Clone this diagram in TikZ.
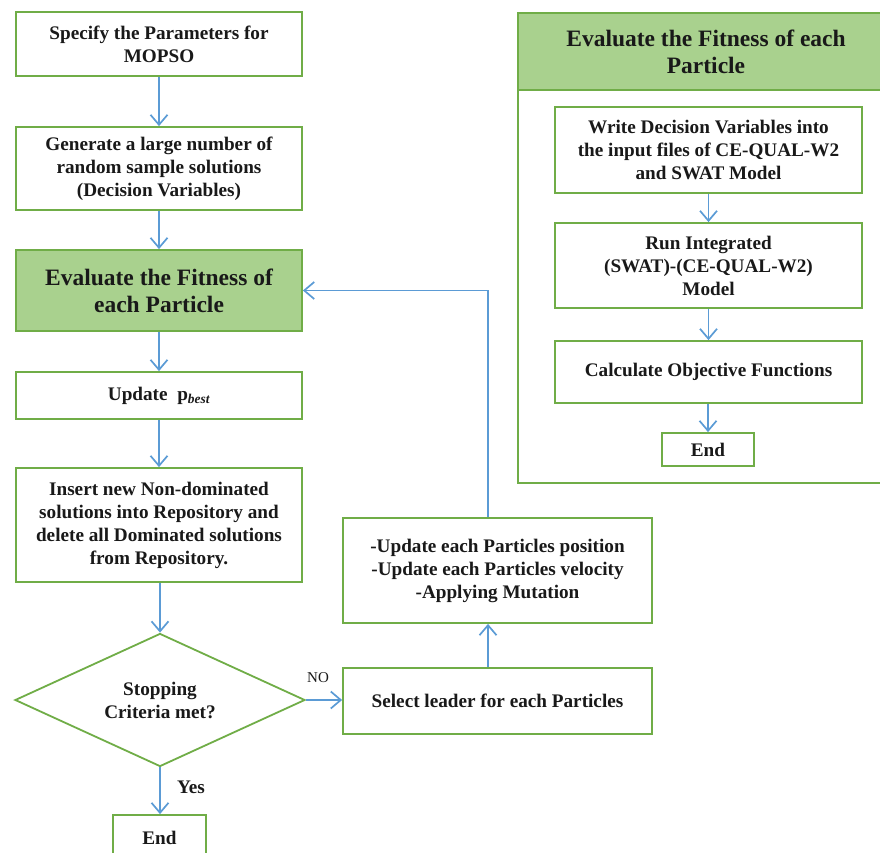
\documentclass[tikz,border=0pt]{standalone}
\usepackage{fontspec}
\setmainfont{Liberation Serif}
\usetikzlibrary{arrows.meta,shapes.geometric}
\definecolor{gline}{HTML}{70AD47}
\definecolor{gfill}{HTML}{A9D18E}
\definecolor{bline}{HTML}{5B9BD5}
\begin{document}
\begin{tikzpicture}[x=1pt,y=-1pt,
  box/.style={draw=gline, line width=1.8pt, fill=white, align=center, inner sep=0pt,
    font=\fontsize{19.2}{23}\selectfont\bfseries, text=black!90},
  hbox/.style={box, fill=gfill, font=\fontsize{23.5}{27}\selectfont\bfseries},
  arr/.style={draw=bline, line width=1.7pt, -{Straight Barb[length=10pt,width=17pt,line width=1.7pt]}},
  lbl/.style={inner sep=0pt, text=black!90}
]
\useasboundingbox (0,0) rectangle (880,853);
\clip (0,0) rectangle (880,853);
% left column
\node[box, minimum width=286, minimum height=64] (n1) at (159,44) {Specify the Parameters for\\MOPSO};
\node[box, minimum width=286, minimum height=83] (n2) at (159,168.5) {Generate a large number of\\random sample solutions\\(Decision Variables)};
\node[hbox, minimum width=286, minimum height=81] (n3) at (159,290.5) {Evaluate the Fitness of\\each Particle};
\node[box, minimum width=286, minimum height=47] (n4) at (159,395.5) {Update\ \ p\textsubscript{\itshape best}};
\node[box, minimum width=286, minimum height=114] (n5) at (159,525) {Insert new Non-dominated\\solutions into Repository and\\delete all Dominated solutions\\from Repository.};
\node[box, diamond, aspect=2.18, minimum width=290, minimum height=133] (dia) at (160,700) {Stopping\\Criteria met?};
\node[box, minimum width=93, minimum height=45] (end1) at (159.5,837.5) {End};
% middle
\node[box, minimum width=309, minimum height=66] (sel) at (497.5,701) {Select leader for each Particles};
\node[box, minimum width=309, minimum height=105] (upd) at (497.5,570.5) {-Update each Particles position\\-Update each Particles velocity\\-Applying Mutation};
% right panel
\node[draw=gline, line width=1.8pt, minimum width=376, minimum height=470] (rp) at (706,248) {};
\node[hbox, minimum width=376, minimum height=77] (rh) at (706,51.5) {Evaluate the Fitness of each\\Particle};
\node[box, minimum width=307, minimum height=86] (ra) at (708.5,150) {Write Decision Variables into\\the input files of CE-QUAL-W2\\and SWAT Model};
\node[box, minimum width=307, minimum height=85] (rb) at (708.5,265.5) {Run Integrated\\(SWAT)-(CE-QUAL-W2)\\Model};
\node[box, minimum width=307, minimum height=62] (rc) at (708.5,372) {Calculate Objective Functions};
\node[box, minimum width=92, minimum height=33] (re) at (708,449.5) {End};
% labels
\node[lbl, font=\fontsize{15}{17}\selectfont] (no) at (318,678) {NO};
\node[lbl, font=\fontsize{19.2}{23}\selectfont\bfseries] (yes) at (191,787) {Yes};
% connectors
\draw[arr] (n1) -- (n2);
\draw[arr] (n2) -- (n3);
\draw[arr] (n3) -- (n4);
\draw[arr] (n4) -- (n5);
\draw[arr] (n5.south -| dia.north) -- (dia.north);
\draw[arr] (dia.east) -- (sel.west |- dia.east);
\draw[arr] (dia.south) -- (end1.north -| dia.south);
\coordinate (lx) at (488,0);
\draw[arr] (sel.north -| lx) -- (upd.south -| lx);
\draw[arr] (upd.north -| lx) |- (n3.east);
\draw[arr] (ra) -- (rb);
\draw[arr] (rb) -- (rc);
\draw[arr] (rc.south -| re.north) -- (re.north);
\end{tikzpicture}
\end{document}
